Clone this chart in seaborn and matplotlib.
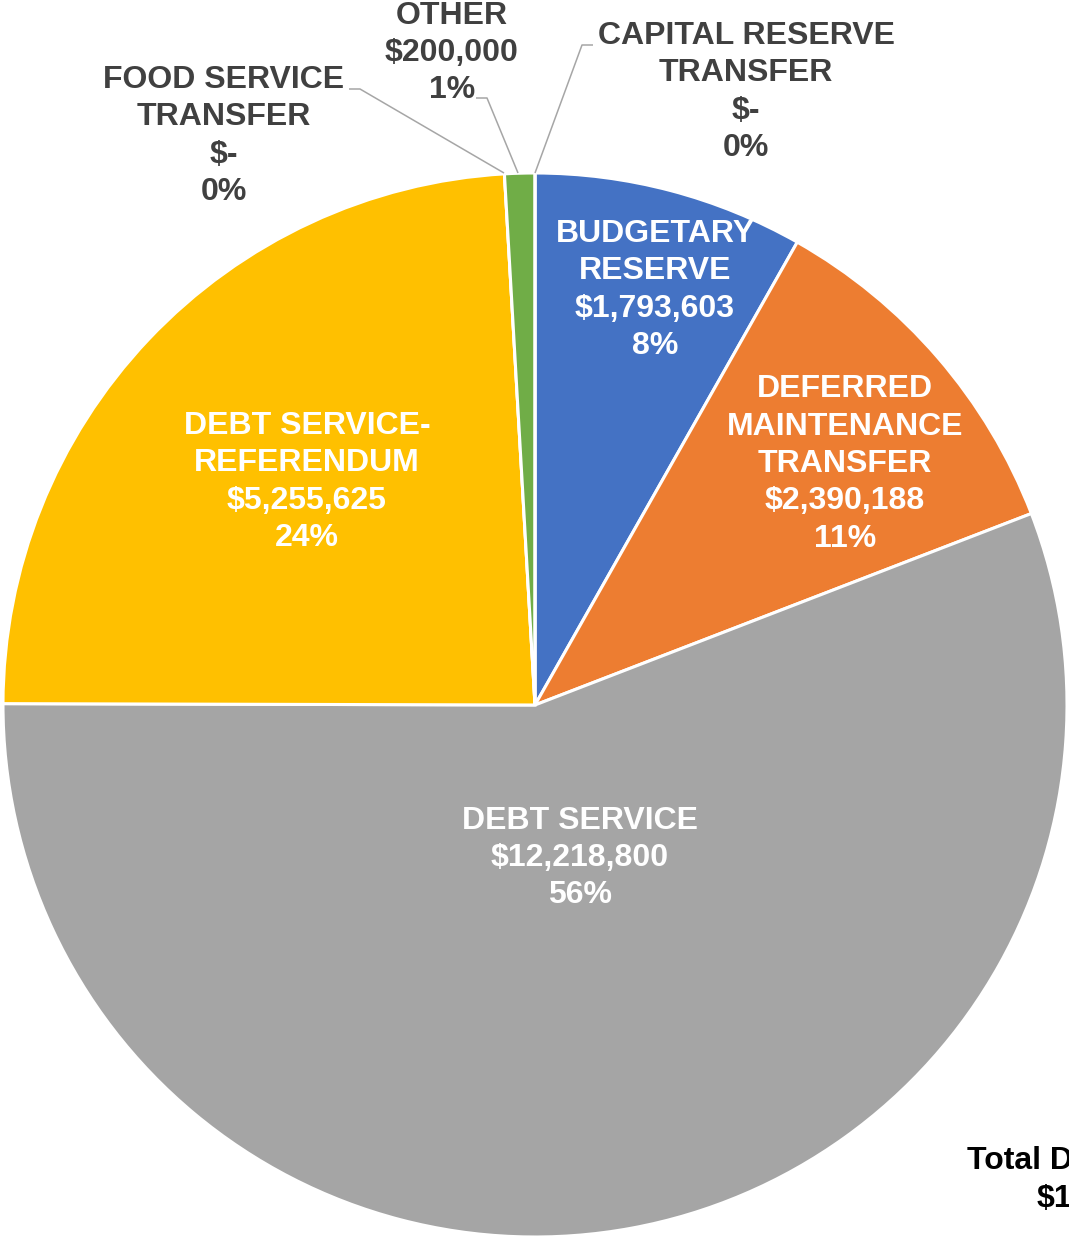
import matplotlib
matplotlib.use("Agg")
import matplotlib.pyplot as plt
import seaborn as sns

sns.set_theme(style="white")
plt.rcParams['font.family'] = ['Liberation Sans', 'DejaVu Sans']

# Budget categories (clockwise from 12 o'clock)
categories = ["BUDGETARY\nRESERVE", "DEFERRED\nMAINTENANCE\nTRANSFER", "DEBT SERVICE",
              "DEBT SERVICE-\nREFERENDUM", "FOOD SERVICE\nTRANSFER", "OTHER",
              "CAPITAL RESERVE\nTRANSFER"]
amounts = [1793603, 2390188, 12218800, 5255625, 0, 200000, 0]
colors = ["#4472C4", "#ED7D31", "#A5A5A5", "#FFC000", "#5B9BD5", "#70AD47", "#264478"]

W, H = 1069, 1239
fig = plt.figure(figsize=(W / 100, H / 100), dpi=100)
ax = fig.add_axes([0, 0, 1, 1])

cx, cy, r = 535, H - 705, 532
ax.pie(amounts, colors=colors, startangle=90, counterclock=False,
       center=(cx, cy), radius=r, frame=True,
       wedgeprops=dict(edgecolor="white", linewidth=2.2))
ax.set_xlim(0, W)
ax.set_ylim(0, H)
ax.set_aspect("equal")
ax.axis("off")

total = sum(amounts)
debt_total = amounts[2] + amounts[3]


def money(v):
    return "$-" if v == 0 else f"${v:,.0f}"


def label(i):
    pct = round(100 * amounts[i] / total)
    return f"{categories[i]}\n{money(amounts[i])}\n{pct}%"


# label block centres (x, y in pixel rows) and colours
placements = [
    (655, 290, "white"),
    (845, 464, "white"),
    (580, 858, "white"),
    (307, 482, "white"),
    (224, 136, "#404040"),
    (452, 53, "#404040"),
    (746, 92, "#404040"),
]
fs = 23
for i, (x, y, c) in enumerate(placements):
    ax.text(x, H - y, label(i), ha="center", va="center", fontsize=fs,
            fontweight="bold", color=c, linespacing=1.32)

# leader lines for the small slices
leaders = [
    [(349, 89), (360, 89), (504, 173)],
    [(476, 98), (487, 98), (518, 173)],
    [(593, 45), (582, 45), (535, 173)],
]
for pts in leaders:
    ax.plot([p[0] for p in pts], [H - p[1] for p in pts], color="#A6A6A6",
            lw=1.1, solid_capstyle="butt", clip_on=False)

# debt service total caption
ax.text(967, H - 1161, "Total Debt Service", ha="left", va="center",
        fontsize=fs, fontweight="bold", color="black", clip_on=False)
ax.text(1037, H - 1199, money(debt_total), ha="left", va="center",
        fontsize=fs, fontweight="bold", color="black", clip_on=False)

fig.savefig("out.png", dpi=100)
